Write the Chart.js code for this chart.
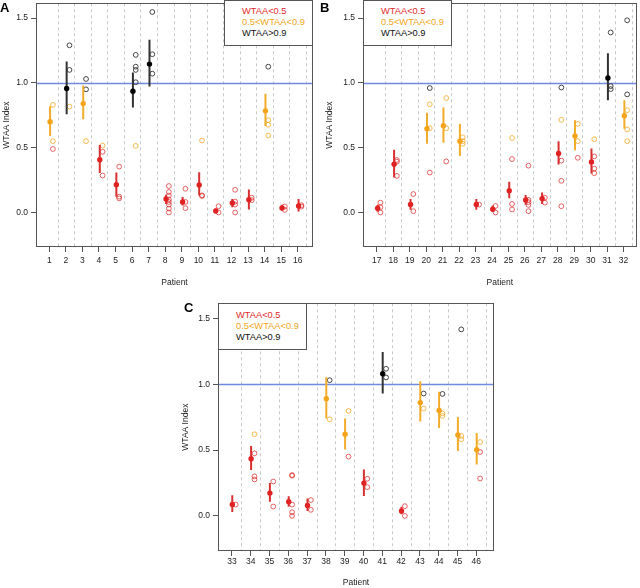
<!DOCTYPE html>
<html>
<head>
<meta charset="utf-8">
<script src="https://cdn.jsdelivr.net/npm/chart.js@4.4.1/dist/chart.umd.min.js"></script>
<style>
  html, body { margin: 0; padding: 0; background: #fff; }
  #wrap { position: relative; width: 640px; height: 588px; overflow: hidden; font-family: 'Liberation Sans', Arial, sans-serif; }
  canvas { position: absolute; }
  .letter { position: absolute; font-weight: bold; font-size: 13px; line-height: 13px; color: #000; }
  .legend { position: absolute; box-sizing: border-box; width: 89px; height: 46px; border: 1px solid #555;
            background: #fff; padding: 5px 0 0 17px; font-size: 9.3px; line-height: 11px; white-space: nowrap; }
  .lo { color: #de2a2a; } .mid { color: #f2a623; } .hi { color: #111; }
</style>
</head>
<body>
<div id="wrap">
  <canvas id="chartA" width="320" height="300" style="left:0px;top:0px"></canvas>
  <canvas id="chartB" width="320" height="300" style="left:320px;top:0px"></canvas>
  <canvas id="chartC" width="360" height="288" style="left:140px;top:300px"></canvas>
  <div class="letter" style="left:0px;top:1px">A</div>
  <div class="letter" style="left:320px;top:1px">B</div>
  <div class="letter" style="left:184px;top:301px">C</div>
  <div class="legend" style="left:224px;top:0px"><div class="lo">WTAA&lt;0.5</div><div class="mid">0.5&lt;WTAA&lt;0.9</div><div class="hi">WTAA&gt;0.9</div></div>
  <div class="legend" style="left:363px;top:0px"><div class="lo">WTAA&lt;0.5</div><div class="mid">0.5&lt;WTAA&lt;0.9</div><div class="hi">WTAA&gt;0.9</div></div>
  <div class="legend" style="left:218px;top:303px;height:47px;padding-top:6px"><div class="lo">WTAA&lt;0.5</div><div class="mid">0.5&lt;WTAA&lt;0.9</div><div class="hi">WTAA&gt;0.9</div></div>
</div>
<script>
// panel A
const patientsA = [1, 2, 3, 4, 5, 6, 7, 8, 9, 10, 11, 12, 13, 14, 15, 16];
const meanA = [0.70, 0.957, 0.84, 0.407, 0.214, 0.936, 1.145, 0.104, 0.081, 0.212, 0.012, 0.073, 0.099, 0.784, 0.035, 0.05];
const lowA  = [0.59, 0.758, 0.72, 0.305, 0.122, 0.81, 0.972, 0.066, 0.053, 0.13, -0.008, 0.04, 0.023, 0.667, 0.015, 0.008];
const highA = [0.82, 1.165, 0.98, 0.52, 0.308, 1.08, 1.333, 0.137, 0.12, 0.31, 0.03, 0.104, 0.178, 0.916, 0.06, 0.104];
const repsA = [
  [0.83, 0.55, 0.49], [1.29, 1.10, 0.817], [1.03, 0.95, 0.55], [0.516, 0.468, 0.285],
  [0.354, 0.122, 0.109], [1.216, 1.125, 1.10, 1.005, 0.514], [1.547, 1.221, 1.071],
  [0.204, 0.158, 0.13, 0.10, 0.081, 0.061, 0.03, 0.0], [0.183, 0.081, 0.033], [0.555, 0.132, 0.127],
  [0.048, 0.0], [0.175, 0.084, 0.061, 0.0], [0.114, 0.095], [1.125, 0.712, 0.677, 0.593],
  [0.046, 0.02], [0.056, 0.045]
];

// panel B
const patientsB = [17, 18, 19, 20, 21, 22, 23, 24, 25, 26, 27, 28, 29, 30, 31, 32];
const meanB = [0.033, 0.372, 0.061, 0.646, 0.669, 0.55, 0.061, 0.025, 0.168, 0.097, 0.107, 0.455, 0.59, 0.389, 1.038, 0.746];
const lowB  = [0.006, 0.27, 0.02, 0.53, 0.537, 0.435, 0.02, 0.0, 0.109, 0.06, 0.066, 0.37, 0.48, 0.30, 0.865, 0.646];
const highB = [0.06, 0.483, 0.104, 0.77, 0.81, 0.684, 0.104, 0.053, 0.237, 0.135, 0.155, 0.55, 0.712, 0.494, 1.229, 0.865];
const repsB = [
  [0.076, 0.04, 0.0], [0.405, 0.392, 0.282], [0.142, 0.01], [0.96, 0.835, 0.65, 0.308],
  [0.883, 0.65, 0.394], [0.58, 0.55, 0.53], [0.061], [0.05, 0.0],
  [0.575, 0.412, 0.066, 0.023], [0.361, 0.097, 0.079, 0.058, 0.01], [0.114, 0.076],
  [0.964, 0.715, 0.40, 0.244, 0.048], [0.684, 0.55, 0.422], [0.565, 0.433, 0.338, 0.303],
  [1.389, 0.975, 0.952], [1.483, 0.911, 0.789, 0.641, 0.55]
];

// panel C
const patientsC = [33, 34, 35, 36, 37, 38, 39, 40, 41, 42, 43, 44, 45, 46];
const meanC = [0.086, 0.434, 0.173, 0.107, 0.079, 0.89, 0.62, 0.249, 1.079, 0.038, 0.86, 0.80, 0.614, 0.503];
const lowC  = [0.03, 0.348, 0.107, 0.069, 0.038, 0.74, 0.505, 0.152, 0.929, 0.013, 0.716, 0.668, 0.492, 0.391];
const highC = [0.157, 0.53, 0.25, 0.15, 0.132, 1.053, 0.74, 0.353, 1.244, 0.069, 1.023, 0.942, 0.751, 0.629];
const repsC = [
  [0.086], [0.62, 0.475, 0.30, 0.277], [0.261, 0.071], [0.31, 0.305, 0.086, 0.028, 0.0],
  [0.12, 0.046], [1.03, 0.733], [0.797, 0.45], [0.282, 0.218], [1.117, 1.051],
  [0.074, 0.0], [0.929, 0.815], [0.926, 0.779, 0.759], [1.416, 0.607, 0.581], [0.561, 0.485, 0.284]
];

const yTicks = [0.0, 0.5, 1.0, 1.5];
const refLine = 1.0;
const yMin = -0.2665, yMax = 1.614;

const FONT = "'Liberation Sans', Arial, sans-serif";
const meanCol = ['#e02222', '#f5a31a', '#000000'];
const barCol  = ['#d83030', '#f2ac2c', '#333333'];
const repCol  = ['rgba(222,40,40,0.8)', 'rgba(244,166,30,0.85)', '#333333'];
const pick = (v, cols) => v < 0.5 ? cols[0] : (v < 0.9 ? cols[1] : cols[2]);

// dashed separators between patients, blue line at 1.0, box round the plot
const frame = {
  id: 'frame',
  beforeDatasetsDraw(chart, args, opts) {
    const { ctx, chartArea: a, scales: { x, y } } = chart;
    ctx.save();
    ctx.lineWidth = 1;
    ctx.strokeStyle = '#c9c9c9';
    ctx.setLineDash([3, 3]);
    opts.patients.forEach(p => {
      const px = Math.round(x.getPixelForValue(p + 0.5)) + 0.5;
      if (px > a.right - 1) return;
      ctx.beginPath(); ctx.moveTo(px, a.top); ctx.lineTo(px, a.bottom); ctx.stroke();
    });
    ctx.restore();
    ctx.save();
    ctx.lineWidth = 1.4;
    ctx.strokeStyle = '#6f89dc';
    const py = Math.round(y.getPixelForValue(refLine)) + 0.5;
    ctx.beginPath(); ctx.moveTo(a.left, py); ctx.lineTo(a.right, py); ctx.stroke();
    ctx.restore();
  },
  afterDraw(chart) {
    const { ctx, chartArea: a } = chart;
    ctx.save();
    ctx.strokeStyle = '#555';
    ctx.lineWidth = 1;
    ctx.strokeRect(Math.round(a.left) + 0.5, Math.round(a.top) + 0.5, Math.round(a.width) - 1, Math.round(a.height) - 1);
    ctx.restore();
  }
};

function makePanel(id, p) {
  const meanPts = p.patients.map((pt, i) => ({ x: pt + p.meanOff, y: p.mean[i] }));
  const barPts = p.patients.map((pt, i) => ({ x: pt + p.meanOff, y: [p.low[i], p.high[i]] }));
  const repPts = [];
  p.patients.forEach((pt, i) => p.reps[i].forEach(v => repPts.push({ x: pt + p.repOff, y: v })));

  new Chart(document.getElementById(id), {
    type: 'scatter',
    data: {
      datasets: [
        { type: 'scatter', data: meanPts, pointRadius: 2.7, pointHoverRadius: 2.7, pointBorderWidth: 0,
          pointBackgroundColor: p.mean.map(v => pick(v, meanCol)) },
        { type: 'bar', data: barPts, barThickness: 2, borderWidth: 0, inflateAmount: 0,
          backgroundColor: p.mean.map(v => pick(v, barCol)) },
        { type: 'scatter', data: repPts, pointRadius: 2.4, pointHoverRadius: 2.4, pointBorderWidth: 0.9,
          pointBackgroundColor: 'rgba(0,0,0,0)', pointBorderColor: repPts.map(d => pick(d.y, repCol)) }
      ]
    },
    options: {
      responsive: false,
      animation: false,
      events: [],
      devicePixelRatio: 1,
      layout: { padding: p.pad },
      plugins: { legend: { display: false }, tooltip: { enabled: false }, frame: { patients: p.patients } },
      scales: {
        x: {
          type: 'linear', min: p.xMin, max: p.xMax, offset: false,
          grid: { display: true, drawOnChartArea: false, drawTicks: true, tickLength: 5, color: '#555', offset: false },
          border: { display: false },
          ticks: { font: { size: 8.5, family: FONT }, color: '#222', padding: p.tickPad, maxRotation: 0, autoSkip: false },
          afterBuildTicks: s => { s.ticks = p.patients.map(v => ({ value: v })); },
          afterFit: s => { s.height = p.xH; s.paddingLeft = 0; s.paddingRight = 0; },
          title: { display: true, text: 'Patient', color: '#222', font: { size: 8.5, family: FONT },
                   padding: { top: 0, bottom: p.xTitlePad } }
        },
        y: {
          type: 'linear', min: yMin, max: yMax,
          grid: { display: true, drawOnChartArea: false, drawTicks: true, tickLength: 5, color: '#555' },
          border: { display: false },
          ticks: { font: { size: 8.5, family: FONT }, color: '#222', padding: 3, callback: v => v.toFixed(1) },
          afterBuildTicks: s => { s.ticks = yTicks.map(v => ({ value: v })); },
          afterFit: s => { s.width = p.yW; s.paddingTop = 0; s.paddingBottom = 0; },
          title: { display: true, text: 'WTAA Index', color: '#222', font: { size: 8.5, family: FONT },
                   padding: { top: p.yTitlePad, bottom: 0 } }
        }
      }
    },
    plugins: [frame]
  });
}

makePanel('chartA', { patients: patientsA, mean: meanA, low: lowA, high: highA, reps: repsA,
  xMin: 0.2, xMax: 16.92, meanOff: 0.05, repOff: 0.22,
  pad: { left: 0, top: 0, right: 7, bottom: 4 }, yW: 36, xH: 49, yTitlePad: 2, xTitlePad: 8, tickPad: 4 });

makePanel('chartB', { patients: patientsB, mean: meanB, low: lowB, high: highB, reps: repsB,
  xMin: 16.16, xMax: 32.8, meanOff: 0.05, repOff: 0.22,
  pad: { left: 0, top: 0, right: 1, bottom: 4 }, yW: 43, xH: 49, yTitlePad: 5, xTitlePad: 8, tickPad: 4 });

makePanel('chartC', { patients: patientsC, mean: meanC, low: lowC, high: highC, reps: repsC,
  xMin: 32.26, xMax: 46.94, meanOff: 0.02, repOff: 0.2,
  pad: { left: 40, top: 3, right: 6, bottom: 0 }, yW: 38, xH: 37, yTitlePad: 1, xTitlePad: 0, tickPad: 1 });
</script>
</body>
</html>
